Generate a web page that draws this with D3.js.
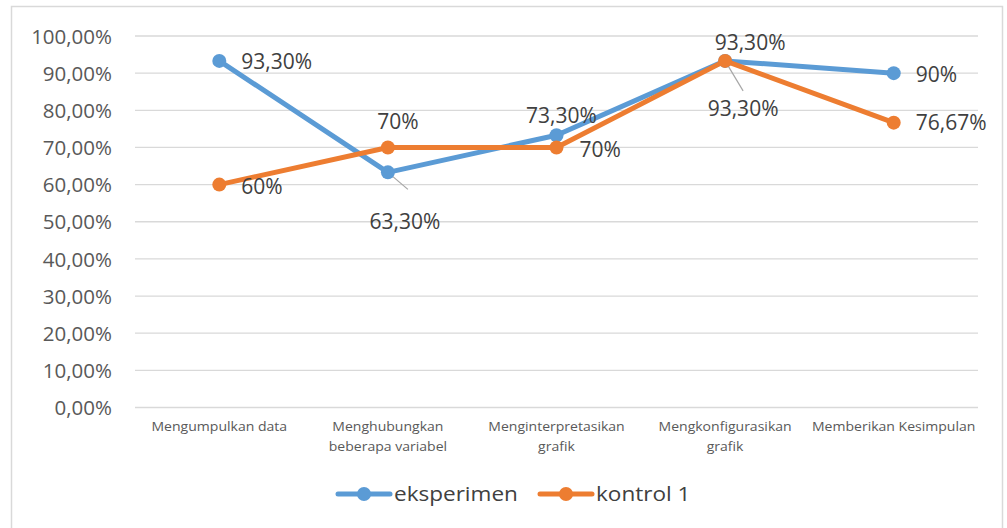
<!DOCTYPE html>
<html>
<head>
<meta charset="utf-8">
<script src="https://cdn.jsdelivr.net/npm/d3@7"></script>
<style>
  body { margin: 0; background: #fff; }
  svg { display: block; font-family: "Open Sans", "Noto Sans", sans-serif; }
</style>
</head>
<body>
<svg id="chart" width="1007" height="528"></svg>
<script>
// Skill categories on the x axis (two-line labels split with "\n")
const categories = [
  "Mengumpulkan data",
  "Menghubungkan\nbeberapa variabel",
  "Menginterpretasikan\ngrafik",
  "Mengkonfigurasikan\ngrafik",
  "Memberikan Kesimpulan"
];
const eksperimen = [93.30, 63.30, 73.30, 93.30, 90];
const kontrol1 = [60, 70, 70, 93.30, 76.67];
const eksperimenLabels = ["93,30%", "63,30%", "73,30%", "93,30%", "90%"];
const kontrolLabels = ["60%", "70%", "70%", "93,30%", "76,67%"];
const yTicks = [0, 10, 20, 30, 40, 50, 60, 70, 80, 90, 100];

const colors = { eksperimen: "#5B9BD5", kontrol: "#ED7D31" };

const svg = d3.select("#chart");

// outer frame
svg.append("rect")
  .attr("x", 11.5).attr("y", 6.5).attr("width", 991).attr("height", 530)
  .attr("fill", "none").attr("stroke", "#d9d9d9").attr("stroke-width", 1.5);

const x = d3.scaleBand().domain(d3.range(categories.length)).range([135, 978]);
const y = d3.scaleLinear().domain([0, 100]).range([407.5, 36]);
const cx = i => x(i) + x.bandwidth() / 2;

// gridlines
svg.append("g").selectAll("line").data(yTicks).join("line")
  .attr("x1", 135).attr("x2", 978)
  .attr("y1", d => y(d)).attr("y2", d => y(d))
  .attr("stroke", "#d9d9d9").attr("stroke-width", 1.3);

// y axis labels
const yAxis = d3.axisLeft(y).tickValues(yTicks)
  .tickFormat(d => d.toFixed(2).replace(".", ",") + "%")
  .tickSize(0).tickPadding(0);
const yg = svg.append("g").attr("transform", "translate(112,0)").call(yAxis);
yg.select(".domain").remove();
yg.selectAll("text").attr("font-size", 20.5).attr("fill", "#595959")
  .attr("font-family", "'Open Sans', sans-serif").attr("dy", "0.35em");

// x category labels
const xg = svg.append("g");
categories.forEach((c, i) => {
  const lines = c.split("\n");
  const t = xg.append("text").attr("text-anchor", "middle")
    .attr("font-size", 13).attr("fill", "#595959")
    .attr("font-family", "'Open Sans', sans-serif")
    .attr("transform", `translate(${cx(i)},0) scale(1.08,1)`);
  lines.forEach((l, k) => {
    t.append("tspan").attr("x", 0).attr("y", 431 + k * 20).text(l);
  });
});

const line = d3.line().x((d, i) => cx(i)).y(d => y(d));

function drawSeries(values, color) {
  const g = svg.append("g");
  g.append("path").datum(values).attr("d", line)
    .attr("fill", "none").attr("stroke", color).attr("stroke-width", 5)
    .attr("stroke-linejoin", "round").attr("stroke-linecap", "round");
  g.selectAll("circle").data(values).join("circle")
    .attr("cx", (d, i) => cx(i)).attr("cy", d => y(d)).attr("r", 7)
    .attr("fill", color);
}

// leader lines (drawn under the points)
const leaders = svg.append("g");
leaders.append("line")
  .attr("x1", cx(1)).attr("y1", y(eksperimen[1]))
  .attr("x2", cx(1) + 20).attr("y2", y(eksperimen[1]) + 17)
  .attr("stroke", "#a6a6a6").attr("stroke-width", 1.2);
leaders.append("line")
  .attr("x1", cx(3)).attr("y1", y(kontrol1[3]))
  .attr("x2", cx(3) + 18).attr("y2", y(kontrol1[3]) + 30)
  .attr("stroke", "#a6a6a6").attr("stroke-width", 1.2);

drawSeries(eksperimen, colors.eksperimen);
drawSeries(kontrol1, colors.kontrol);

// data labels: offsets from each point, with anchor
const eksOffsets = [[22, 1, "start"], [17, 49, "middle"], [5, -20, "middle"], [25, -18, "middle"], [22, 1, "start"]];
const konOffsets = [[22, 2, "start"], [10, -26, "middle"], [23, 2, "start"], [18, 48, "middle"], [22, 0, "start"]];

function drawLabels(values, labels, offsets) {
  const g = svg.append("g");
  values.forEach((v, i) => {
    const [dx, dy, anchor] = offsets[i];
    g.append("text")
      .attr("x", cx(i) + dx).attr("y", y(v) + dy)
      .attr("dy", "0.35em").attr("text-anchor", anchor)
      .attr("font-size", 21).attr("fill", "#404040")
      .attr("font-family", "'Open Sans', sans-serif")
      .text(labels[i]);
  });
}
drawLabels(eksperimen, eksperimenLabels, eksOffsets);
drawLabels(kontrol1, kontrolLabels, konOffsets);

// legend
const legend = svg.append("g");
const legendItems = [
  { name: "eksperimen", color: colors.eksperimen, x: 338 },
  { name: "kontrol 1", color: colors.kontrol, x: 540 }
];
legendItems.forEach(it => {
  legend.append("line").attr("x1", it.x).attr("x2", it.x + 52)
    .attr("y1", 494).attr("y2", 494)
    .attr("stroke", it.color).attr("stroke-width", 5).attr("stroke-linecap", "round");
  legend.append("circle").attr("cx", it.x + 26).attr("cy", 494).attr("r", 7).attr("fill", it.color);
  legend.append("text").attr("y", 494).attr("dy", "0.35em")
    .attr("transform", `translate(${it.x + 56},0) scale(1.1,1)`)
    .attr("font-size", 20.5).attr("fill", "#404040")
    .attr("font-family", "'Open Sans', sans-serif")
    .text(it.name);
});
</script>
</body>
</html>
